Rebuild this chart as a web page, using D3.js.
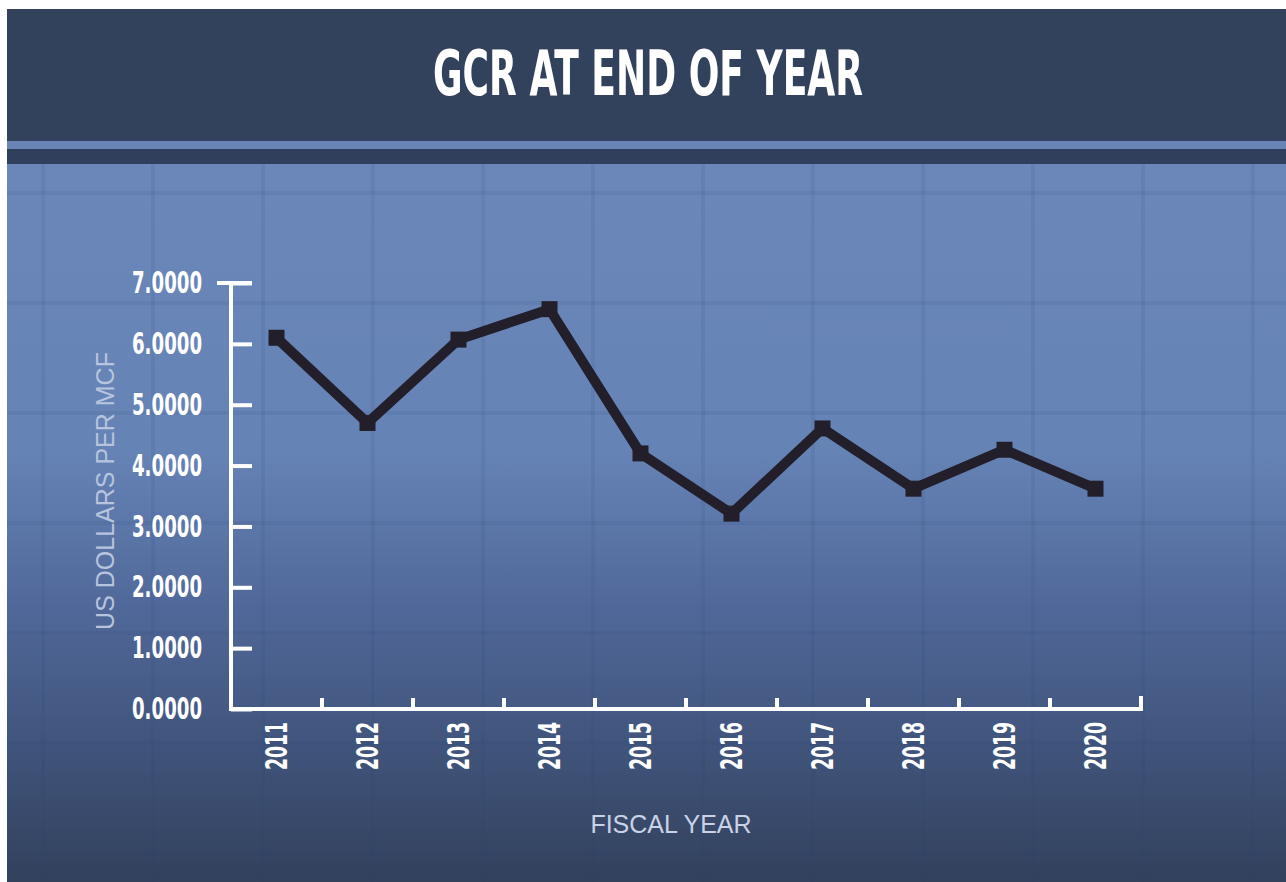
<!DOCTYPE html>
<html lang="en">
<head>
    <meta charset="UTF-8">
    <title>GCR at end of year</title>
    <script src="https://d3js.org/d3.v7.min.js"></script>
    <style>
        body { margin: 0; background: #ffffff; }
        .cond { font-family: "Liberation Sans Narrow", "DejaVu Sans Condensed", "Liberation Sans", sans-serif; font-weight: bold; }
        .light { font-family: "Liberation Sans", "Open Sans", sans-serif; }
    </style>
</head>
<body>
    <script>
        // chart data
        var years = ["2011", "2012", "2013", "2014", "2015", "2016", "2017", "2018", "2019", "2020"];
        var gcrValues = [6.10, 4.70, 6.07, 6.57, 4.20, 3.21, 4.61, 3.62, 4.26, 3.62];
        var yTicks = [0, 1, 2, 3, 4, 5, 6, 7];
        var titleText = "GCR AT END OF YEAR";
        var yTitle = "US DOLLARS PER MCF";
        var xTitle = "FISCAL YEAR";

        var W = 1286, H = 882;
        var svg = d3.select("body")
            .append("svg")
            .attr("width", W)
            .attr("height", H);

        var defs = svg.append("defs");
        var grad = defs.append("linearGradient")
            .attr("id", "panel")
            .attr("x1", 0).attr("y1", 0)
            .attr("x2", 0).attr("y2", 1);
        grad.append("stop").attr("offset", "0%").attr("stop-color", "#6b87b9");
        grad.append("stop").attr("offset", "40%").attr("stop-color", "#6683b6");
        grad.append("stop").attr("offset", "62%").attr("stop-color", "#506899");
        grad.append("stop").attr("offset", "80%").attr("stop-color", "#41557d");
        grad.append("stop").attr("offset", "100%").attr("stop-color", "#32415c");

        // background panel
        svg.append("rect")
            .attr("x", 7).attr("y", 164)
            .attr("width", W - 7).attr("height", H - 164)
            .style("fill", "url(#panel)");

        // faint background grid
        var grid = svg.append("g").style("stroke", "#2c4476").style("stroke-opacity", 0.1).style("stroke-width", 4);
        d3.range(43, W, 110).forEach(function(gx){
            grid.append("line").attr("x1", gx).attr("x2", gx).attr("y1", 164).attr("y2", H);
        });
        d3.range(193, H, 110).forEach(function(gy){
            grid.append("line").attr("x1", 7).attr("x2", W).attr("y1", gy).attr("y2", gy);
        });

        // header
        svg.append("rect").attr("x", 7).attr("y", 9).attr("width", W - 7).attr("height", 132).style("fill", "#33425c");
        svg.append("rect").attr("x", 7).attr("y", 141).attr("width", W - 7).attr("height", 8).style("fill", "#6a85b5");
        svg.append("rect").attr("x", 7).attr("y", 149).attr("width", W - 7).attr("height", 15).style("fill", "#2f3f5c");

        svg.append("text")
            .attr("class", "cond")
            .attr("x", 648)
            .attr("y", 95)
            .attr("text-anchor", "middle")
            .attr("textLength", 430)
            .attr("lengthAdjust", "spacingAndGlyphs")
            .style("font-size", "62px")
            .style("fill", "#ffffff")
            .text(titleText);

        // scales
        var x = d3.scaleBand().domain(years).range([231, 1141]);
        var y = d3.scaleLinear().domain([0, 7]).range([709, 283]);

        // y axis
        var yAxis = svg.append("g")
            .attr("transform", "translate(231,0)")
            .call(d3.axisLeft(y)
                .tickValues(yTicks)
                .tickSizeInner(-21)
                .tickSizeOuter(0)
                .tickPadding(29)
                .tickFormat(d3.format(".4f")));
        yAxis.select(".domain").remove();
        yAxis.selectAll(".tick line").style("stroke", "#ffffff").style("stroke-width", 4);
        yAxis.selectAll(".tick text")
            .attr("class", "cond")
            .attr("textLength", 70)
            .attr("lengthAdjust", "spacingAndGlyphs")
            .style("font-size", "30px")
            .style("fill", "#ffffff");
        yAxis.append("line")
            .attr("x1", -14).attr("x2", 21)
            .attr("y1", y(7)).attr("y2", y(7))
            .style("stroke", "#ffffff").style("stroke-width", 4);

        // x axis labels
        var xAxis = svg.append("g")
            .attr("transform", "translate(0,709)")
            .call(d3.axisBottom(x).tickSize(0).tickPadding(0));
        xAxis.select(".domain").remove();
        xAxis.selectAll(".tick text")
            .attr("class", "cond")
            .attr("transform", "translate(0,13) rotate(-90)")
            .attr("x", 0).attr("y", 0)
            .attr("dy", "0.36em")
            .attr("text-anchor", "end")
            .attr("textLength", 48)
            .attr("lengthAdjust", "spacingAndGlyphs")
            .style("font-size", "30px")
            .style("fill", "#ffffff");

        // axis lines
        svg.append("path")
            .attr("d", "M" + x.range()[0] + "," + y(7) + "V" + y(0) + "H" + x.range()[1] + "V" + (y(0) - 11))
            .style("fill", "none")
            .style("stroke", "#ffffff")
            .style("stroke-width", 4)
            .style("stroke-linecap", "square");
        svg.selectAll(".xtick")
            .data(years.slice(0, -1))
            .enter()
            .append("line")
            .attr("class", "xtick")
            .attr("x1", function(d){ return x(d) + x.bandwidth(); })
            .attr("x2", function(d){ return x(d) + x.bandwidth(); })
            .attr("y1", y(0))
            .attr("y2", y(0) - 11)
            .style("stroke", "#ffffff")
            .style("stroke-width", 4);

        // axis titles
        svg.append("text")
            .attr("class", "light")
            .attr("transform", "translate(114,491) rotate(-90)")
            .attr("text-anchor", "middle")
            .style("font-size", "25px")
            .style("fill", "#b7c4de")
            .text(yTitle);
        svg.append("text")
            .attr("class", "light")
            .attr("x", 671)
            .attr("y", 833)
            .attr("text-anchor", "middle")
            .style("font-size", "25px")
            .style("fill", "#c9d2e6")
            .text(xTitle);

        // the line
        var pts = years.map(function(d, i){ return [x(d) + x.bandwidth() / 2, y(gcrValues[i])]; });
        svg.append("path")
            .datum(pts)
            .attr("d", d3.line())
            .style("fill", "none")
            .style("stroke", "#221f2b")
            .style("stroke-width", 10)
            .style("stroke-linejoin", "miter");
        svg.selectAll(".marker")
            .data(pts)
            .enter()
            .append("rect")
            .attr("class", "marker")
            .attr("x", function(d){ return d[0] - 8; })
            .attr("y", function(d){ return d[1] - 8; })
            .attr("width", 16)
            .attr("height", 16)
            .style("fill", "#221f2b");
    </script>
</body>
</html>
